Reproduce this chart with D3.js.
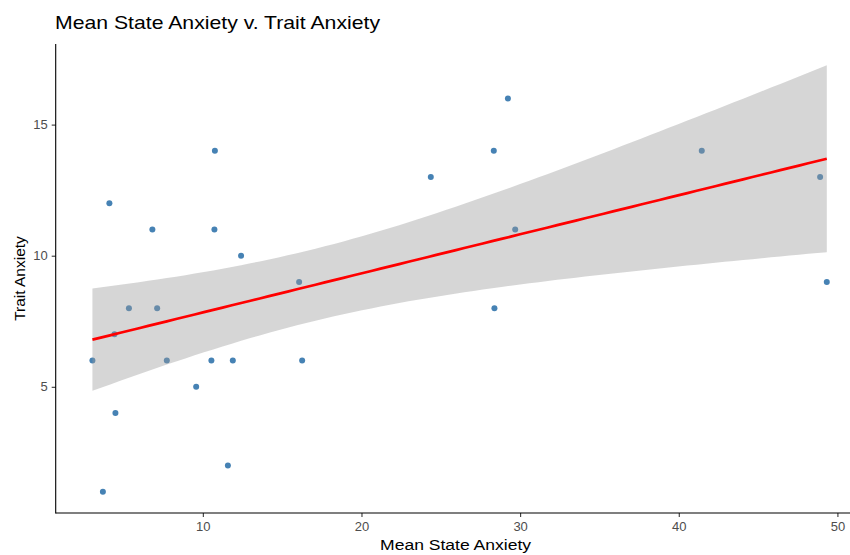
<!DOCTYPE html>
<html>
<head>
<meta charset="utf-8">
<script src="https://cdn.jsdelivr.net/npm/d3@7"></script>
<style>
  html, body { margin: 0; padding: 0; background: #fff; }
  svg { display: block; font-family: "Liberation Sans", Arial, sans-serif; }
</style>
</head>
<body>
<svg id="chart" width="850" height="555"></svg>
<script>
// Mean state anxiety (x) and trait anxiety (y) per participant
const meanState = [4.11, 6.82, 10.76, 10.73, 12.41, 16.07, 5.34, 7.12, 4.43, 3.04,
                   7.73, 10.54, 11.89, 16.26, 9.58, 4.49, 11.58, 3.70, 29.23, 28.34,
                   24.37, 29.69, 28.38, 41.45, 48.91, 49.33];
const traitAnx  = [12, 11, 14, 11, 10, 9, 8, 8, 7, 6,
                   6, 6, 6, 6, 5, 4, 2, 1, 16, 14,
                   13, 11, 8, 14, 13, 9];
const xTicks = [10, 20, 30, 40, 50];
const yTicks = [5, 10, 15];
const titleText = "Mean State Anxiety v. Trait Anxiety";
const xTitle = "Mean State Anxiety";
const yTitle = "Trait Anxiety";

const points = meanState.map((x, i) => ({ x, y: traitAnx[i] }));

// Ordinary least squares fit with a 95% confidence band
const n = points.length;
const mx = d3.mean(meanState), my = d3.mean(traitAnx);
const sxx = d3.sum(meanState, x => (x - mx) ** 2);
const sxy = d3.sum(points, p => (p.x - mx) * (p.y - my));
const slope = sxy / sxx, intercept = my - slope * mx;
const rss = d3.sum(points, p => (p.y - (intercept + slope * p.x)) ** 2);
const sRes = Math.sqrt(rss / (n - 2));
const tCrit = 2.064; // t quantile, 0.975, 24 df
const [xMin, xMax] = d3.extent(meanState);
const band = d3.range(80).map(i => {
  const x = xMin + (xMax - xMin) * i / 79;
  const fit = intercept + slope * x;
  const se = sRes * Math.sqrt(1 / n + (x - mx) ** 2 / sxx);
  return { x, fit, lo: fit - tCrit * se, hi: fit + tCrit * se };
});

// Scales with 5% padding around the drawn extent
function padded(lo, hi) { const d = (hi - lo) * 0.05; return [lo - d, hi + d]; }
const yLo = Math.min(d3.min(traitAnx), d3.min(band, b => b.lo));
const yHi = Math.max(d3.max(traitAnx), d3.max(band, b => b.hi));

const panel = { left: 55.7, right: 863.5, top: 44, bottom: 513 };
const x = d3.scaleLinear().domain(padded(xMin, xMax)).range([panel.left, panel.right]);
const y = d3.scaleLinear().domain(padded(yLo, yHi)).range([panel.bottom, panel.top]);

const svg = d3.select("#chart");

// points first, then the band over them, then the fit line
svg.append("g").selectAll("circle").data(points).join("circle")
  .attr("cx", d => x(d.x)).attr("cy", d => y(d.y)).attr("r", 3)
  .attr("fill", "steelblue");

svg.append("path").datum(band)
  .attr("d", d3.area().x(d => x(d.x)).y0(d => y(d.lo)).y1(d => y(d.hi)))
  .attr("fill", "#999999").attr("fill-opacity", 0.4);

svg.append("path").datum(band)
  .attr("d", d3.line().x(d => x(d.x)).y(d => y(d.fit)))
  .attr("fill", "none").attr("stroke", "red").attr("stroke-width", 2.7);

// axes
const xAxis = svg.append("g").attr("transform", `translate(0,${panel.bottom})`)
  .call(d3.axisBottom(x).tickValues(xTicks).tickSize(4).tickPadding(5));
const yAxis = svg.append("g").attr("transform", `translate(${panel.left},0)`)
  .call(d3.axisLeft(y).tickValues(yTicks).tickSize(4).tickPadding(4));

[xAxis, yAxis].forEach(g => {
  g.select(".domain").remove();
  g.selectAll(".tick line").attr("stroke", "#333333").attr("stroke-width", 1.07);
  g.selectAll(".tick text").attr("fill", "#4d4d4d")
    .style("font-size", "13px").style("font-family", "Liberation Sans, Arial, sans-serif");
});

svg.append("line").attr("x1", panel.left).attr("x2", panel.right)
  .attr("y1", panel.bottom).attr("y2", panel.bottom)
  .attr("stroke", "black").attr("stroke-width", 1.1);
svg.append("line").attr("x1", panel.left).attr("x2", panel.left)
  .attr("y1", panel.top).attr("y2", panel.bottom + 0.5)
  .attr("stroke", "black").attr("stroke-width", 1.1);

// titles
svg.append("text").attr("x", 55).attr("y", 28.5)
  .attr("textLength", 325).attr("lengthAdjust", "spacingAndGlyphs")
  .style("font-size", "18.5px").attr("fill", "black").text(titleText);

svg.append("text").attr("x", (panel.left + panel.right) / 2 - 4).attr("y", 550)
  .attr("text-anchor", "middle")
  .attr("textLength", 151).attr("lengthAdjust", "spacingAndGlyphs")
  .style("font-size", "15.5px").attr("fill", "black").text(xTitle);

svg.append("text")
  .attr("transform", `translate(24.5,${(panel.top + panel.bottom) / 2}) rotate(-90)`)
  .attr("text-anchor", "middle")
  .style("font-size", "15.5px").attr("fill", "black").text(yTitle);
</script>
</body>
</html>
